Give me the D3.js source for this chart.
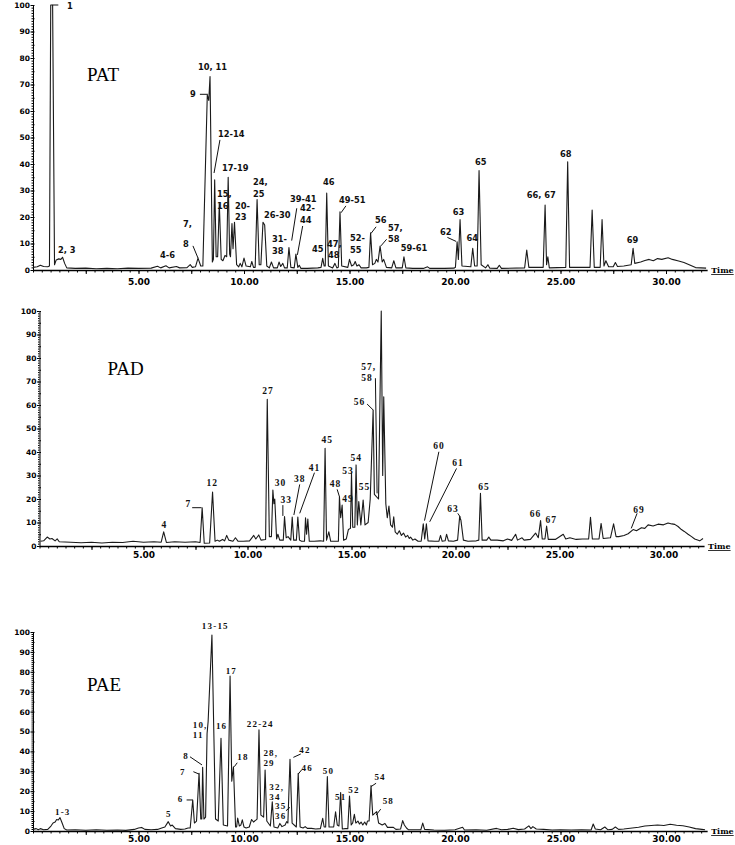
<!DOCTYPE html>
<html>
<head>
<meta charset="utf-8">
<script src="https://cdn.jsdelivr.net/npm/d3@7"></script>
<style>
body { margin:0; background:#fff; }
svg { display:block; }
</style>
</head>
<body>
<div id="graph"></div>
<script>
// tick values / labels shared by the three chromatograms
var yTickValues = [0, 10, 20, 30, 40, 50, 60, 70, 80, 90, 100];
var xTickTimes = [5, 10, 15, 20, 25, 30];
var xTickLabels = ["5.00", "10.00", "15.00", "20.00", "25.00", "30.00"];
var sampleNames = ["PAT", "PAD", "PAE"];

// traces: [retention time (min), relative abundance (%)]
var patTrace = [[0.0,1.0],[0.2,1.2],[0.35,1.8],[0.5,1.3],[0.7,1.2],[0.78,1.5],[0.84,100],[0.93,100],[1.02,2.0],[1.1,3.8],[1.22,4.2],[1.32,4.0],[1.4,4.8],[1.5,2.5],[1.6,0.8],[2.0,0.6],[2.5,0.7],[3.0,0.5],[3.5,0.6],[4.0,0.5],[4.5,0.7],[5.0,0.6],[5.6,0.7],[5.9,1.4],[6.05,0.8],[6.3,1.6],[6.45,0.8],[6.8,1.3],[6.95,0.8],[7.3,0.9],[7.45,2.0],[7.55,1.0],[7.7,1.2],[7.82,4.5],[7.95,1.5],[8.05,1.5],[8.26,66],[8.33,64],[8.39,73],[8.5,3],[8.55,4],[8.61,34],[8.68,5],[8.75,5],[8.83,25],[8.92,4],[9.0,3.5],[9.1,5.5],[9.18,5],[9.25,35],[9.32,6],[9.36,5],[9.43,17.5],[9.48,8],[9.55,18],[9.65,2],[9.75,1.2],[9.82,2.5],[9.9,1.2],[10.0,4.5],[10.1,1.5],[10.3,1.2],[10.37,3.2],[10.45,1.0],[10.53,1.0],[10.62,26.6],[10.72,2],[10.8,2],[10.9,18],[10.98,17],[11.08,1.5],[11.2,0.8],[11.3,3],[11.4,0.8],[11.58,0.8],[11.66,3],[11.74,1.3],[11.84,2.5],[11.92,0.8],[12.05,0.8],[12.13,8.5],[12.22,1],[12.38,0.8],[12.46,6],[12.55,1],[12.62,1.8],[12.7,0.6],[13.0,0.6],[13.5,0.8],[13.65,1.0],[13.73,4.4],[13.8,1.5],[13.85,1.5],[13.92,29],[14.0,1.5],[14.2,0.8],[14.31,2.5],[14.4,0.8],[14.47,1],[14.55,22],[14.63,1.5],[14.92,1.0],[15.0,4],[15.1,1.5],[15.2,2.0],[15.27,3.2],[15.35,1.5],[15.45,2],[15.55,0.8],[15.8,0.8],[15.92,1.0],[16.0,14],[16.09,2],[16.2,2.5],[16.27,4],[16.35,3],[16.45,9],[16.55,3],[16.62,4],[16.75,1.0],[17.0,0.8],[17.1,3.5],[17.2,0.8],[17.5,0.8],[17.58,5],[17.67,0.8],[18.0,0.6],[18.5,0.6],[18.7,1.2],[18.8,0.6],[19.5,0.6],[19.95,0.7],[20.02,1],[20.1,10.6],[20.16,4],[20.24,19],[20.33,1.5],[20.75,1.2],[20.84,8.2],[20.93,1.5],[21.05,1.5],[21.14,37.5],[21.24,2],[21.45,0.8],[21.56,2],[21.65,0.7],[22.0,0.6],[22.1,1.8],[22.2,0.6],[23.3,0.8],[23.4,7.5],[23.5,1],[24.18,1],[24.27,24.5],[24.34,2],[24.4,5],[24.47,0.8],[25.25,1],[25.34,40.8],[25.43,1],[26.4,1],[26.5,22.6],[26.6,1],[26.88,1],[26.97,19],[27.06,1.5],[27.15,3.5],[27.28,1.2],[27.5,1.2],[27.6,2.8],[27.7,1.3],[28.0,1.5],[28.35,2],[28.44,8.2],[28.52,2.5],[28.8,3],[29.0,3.6],[29.2,4],[29.4,3.5],[29.6,4.3],[29.8,4.0],[30.1,4.6],[30.3,4.0],[30.6,3.4],[30.85,2.8],[31.1,2],[31.4,0.9],[31.9,0.7]];

var padTrace = [[0.05,2.0],[0.2,2.2],[0.37,3.8],[0.5,3.0],[0.6,3.2],[0.75,2.2],[0.85,3.0],[0.95,1.8],[1.5,1.6],[2.0,1.4],[2.5,1.6],[3.0,1.3],[3.5,1.6],[4.0,1.5],[4.5,2.0],[5.0,1.6],[5.5,1.8],[5.85,1.6],[5.97,6],[6.1,1.5],[6.5,1.8],[7.0,1.6],[7.5,1.8],[7.72,1.5],[7.82,16.3],[7.92,1.2],[8.18,1.3],[8.32,23],[8.44,2],[8.55,2.5],[8.65,2.0],[8.8,2.8],[8.9,2.2],[9.0,4.5],[9.1,2.5],[9.3,2.0],[9.42,3.5],[9.55,2.0],[9.8,2.0],[10.1,2.2],[10.3,4.5],[10.4,3],[10.54,4.7],[10.65,2.5],[10.87,2.8],[10.95,62.4],[11.05,4],[11.15,4],[11.22,23.8],[11.27,18],[11.31,20],[11.4,3],[11.46,5],[11.55,2.5],[11.72,2.5],[11.78,12.5],[11.86,3.5],[11.95,4],[12.08,2.5],[12.15,12.3],[12.22,2.5],[12.35,2.5],[12.42,12.3],[12.5,2.5],[12.6,2.0],[12.74,2.0],[12.79,12],[12.84,5],[12.9,11.5],[12.97,2.0],[13.2,2.0],[13.5,2.2],[13.66,2],[13.73,41.6],[13.8,2.5],[13.91,6],[14.0,2.0],[14.3,2.0],[14.37,2],[14.42,21],[14.48,12],[14.55,17.4],[14.62,2.5],[14.75,3],[14.85,7],[14.95,7.5],[15.0,31],[15.06,8],[15.16,8],[15.22,34.5],[15.28,9],[15.35,18.9],[15.45,9],[15.56,19.6],[15.65,9],[15.8,10],[15.9,20],[16.04,57.9],[16.1,22],[16.3,20],[16.43,100],[16.5,30],[16.55,63.5],[16.65,18],[16.72,12],[16.8,17],[16.88,9],[16.97,8],[17.03,12.4],[17.1,6],[17.2,5],[17.3,6.5],[17.4,4.5],[17.5,5.5],[17.6,3.8],[17.7,4.5],[17.78,3.2],[17.84,3.8],[17.95,2.5],[18.05,3],[18.2,2.0],[18.35,2.0],[18.45,9.4],[18.52,3],[18.6,9.4],[18.68,2.2],[19.0,2.0],[19.2,2.0],[19.28,4.5],[19.36,2],[19.5,2.2],[19.57,5],[19.66,2.2],[19.9,2.0],[20.1,2.5],[20.2,12.5],[20.26,11],[20.38,2.5],[20.6,2.0],[21.0,2.2],[21.12,2.5],[21.2,22.4],[21.28,2.5],[21.5,2.5],[21.6,3.8],[21.7,2.5],[22.0,2.5],[22.3,2.2],[22.5,3],[22.7,2.4],[22.89,5],[22.98,2.5],[23.2,3.5],[23.3,2.5],[23.6,2.8],[23.85,5.5],[23.98,3.5],[24.09,10.8],[24.17,3.0],[24.3,3],[24.38,8.5],[24.46,2.8],[24.8,2.8],[25.18,5],[25.3,3.0],[25.5,3.5],[25.8,2.8],[26.1,3.0],[26.4,3],[26.49,12.2],[26.58,3],[26.9,3],[27.0,9.6],[27.1,3.2],[27.45,3.5],[27.6,9.4],[27.72,4],[27.85,4],[28.1,4.5],[28.3,5.2],[28.54,7],[28.7,6.5],[28.94,7.8],[29.1,7.5],[29.26,9],[29.5,8.5],[29.74,9.3],[30.0,9],[30.22,9.8],[30.4,9.4],[30.54,9.2],[30.7,8.3],[30.86,7],[31.0,6.2],[31.18,5],[31.35,4],[31.5,3],[31.74,2.2],[31.9,3.2]];

var paeTrace = [[0.0,0.8],[0.15,1.2],[0.25,0.6],[0.35,1.2],[0.5,0.6],[0.7,0.8],[0.85,2.5],[0.95,4],[1.05,4.5],[1.12,5.8],[1.2,5.5],[1.28,6.7],[1.38,4],[1.48,1.2],[1.6,0.5],[2.0,0.6],[2.5,0.4],[3.0,0.6],[3.5,0.4],[4.0,0.5],[4.4,0.3],[4.8,0.8],[5.0,1.5],[5.15,1.8],[5.3,0.8],[5.6,0.6],[5.9,0.8],[6.1,1.5],[6.25,2],[6.41,4.7],[6.52,2.5],[6.6,3],[6.75,1.2],[7.0,0.8],[7.2,1.0],[7.35,1.5],[7.45,1.5],[7.57,15.6],[7.65,4],[7.75,5],[7.87,29],[7.95,6],[8.0,6],[8.04,32],[8.1,6],[8.18,7],[8.25,49],[8.3,55],[8.48,98.5],[8.65,6],[8.78,5],[8.91,46.6],[9.02,3],[9.22,2.5],[9.34,77.9],[9.42,25],[9.5,32.3],[9.6,2],[9.65,2],[9.7,6.5],[9.78,2.5],[9.85,3],[9.92,5.6],[10.0,2],[10.1,1.5],[10.25,2],[10.36,5.8],[10.45,4.5],[10.62,6],[10.71,50.8],[10.8,8],[10.93,7],[11.0,30.6],[11.08,5],[11.25,2.5],[11.34,14.7],[11.42,2],[11.6,1.5],[11.7,3.8],[11.8,2.2],[11.95,3.0],[12.02,4.7],[12.08,4],[12.18,36],[12.28,4],[12.48,2],[12.57,29],[12.66,2],[12.8,1.5],[12.9,2.2],[13.0,1.3],[13.2,1.3],[13.4,1.0],[13.62,1.2],[13.73,6.4],[13.8,2],[13.87,2],[13.95,27.3],[14.03,2],[14.25,2],[14.34,9.7],[14.42,3],[14.5,2.5],[14.58,19.3],[14.66,1],[14.8,1.2],[14.92,1.2],[15.0,17.6],[15.08,3],[15.15,4],[15.23,8.4],[15.3,4],[15.4,5],[15.47,3.5],[15.55,4.5],[15.63,3],[15.72,4.5],[15.8,3],[15.85,5],[15.93,5],[16.02,22.8],[16.1,8],[16.29,9.7],[16.38,4],[16.55,3],[16.68,3.8],[16.8,1.8],[17.08,1.8],[17.2,0.8],[17.42,1],[17.52,5.2],[17.6,3],[17.7,1.5],[17.8,0.6],[18.38,0.6],[18.47,4],[18.56,0.8],[19.0,0.5],[19.5,0.4],[20.0,0.6],[20.36,1.9],[20.45,0.5],[21.0,0.6],[21.5,0.4],[21.97,1.3],[22.2,0.6],[22.5,0.8],[22.76,1.4],[23.0,0.7],[23.3,1],[23.5,2.6],[23.6,1.2],[23.69,2.2],[23.85,1],[24.2,0.8],[24.6,0.5],[25.0,0.6],[25.5,0.5],[26.0,0.6],[26.45,0.5],[26.55,3.5],[26.65,1],[26.9,0.6],[27.1,2.0],[27.25,0.6],[27.45,0.8],[27.6,2.0],[27.75,0.8],[28.0,1.0],[28.4,1.5],[28.7,1.9],[29.0,2.5],[29.3,2.8],[29.6,3.0],[29.9,2.8],[30.2,3.4],[30.5,2.9],[30.8,2.6],[31.1,2.0],[31.4,1.2],[31.7,0.8],[31.85,0.6]];

// peak numbers: [text, time of left edge, abundance at baseline]
var patLabels = [["1",1.61,98.4],["2, 3",1.18,6.4],["4-6",6.02,4.5],["7,",7.11,16.2],["8",7.11,8.7],["9",7.44,65.3],["10, 11",7.82,75.5],["12-14",8.77,50.2],["17-19",8.96,37.4],["15,",8.72,27.4],["16",8.72,23.2],["20-",9.57,23.2],["23",9.57,19.0],["24,",10.43,31.9],["25",10.43,27.7],["26-30",10.95,19.6],["31-",11.33,10.4],["38",11.33,6.2],["39-41",12.18,25.7],["42-",12.65,22.1],["44",12.65,17.9],["45",13.22,6.8],["46",13.74,32],["47,",13.93,8.5],["48",13.98,4.7],["49-51",14.5,25.3],["52-",15.02,10.8],["55",15.02,6.6],["56",16.21,17.7],["57,",16.82,14.9],["58",16.82,10.7],["59-61",17.43,7.2],["62",19.29,13.2],["63",19.89,20.8],["64",20.55,10.9],["65",20.95,39.6],["66, 67",23.4,27],["68",24.98,42.8],["69",28.14,10.1]];
var padLabels = [["4",5.87,7.7],["7",7.02,16.6],["12",8.03,25.7],["27",10.71,64.7],["30",11.31,25.7],["33",11.59,18.4],["38",12.23,27.1],["41",12.95,32],["45",13.56,43.7],["48",13.96,25],["49",14.55,18.9],["53",14.55,30.6],["54",14.95,36.3],["55",15.35,23.8],["56",15.11,60],["57,",15.47,74.8],["58",15.47,70.4],["60",18.93,41.3],["61",19.84,34.2],["63",19.6,14.6],["65",21.09,23.8],["66",23.57,12.2],["67",24.33,9.7],["69",28.54,13.9]];
var paeLabels = [["1-3",1.04,8],["5",6.3,7.2],["6",6.86,14.4],["7",6.97,28.3],["8",7.12,36.2],["10,",7.57,51.6],["11",7.57,46.8],["13-15",8.0,101.4],["16",8.67,51.3],["17",9.13,78.7],["18",9.68,35.7],["22-24",10.13,52.1],["28,",10.92,37.6],["29",10.92,32.5],["32,",11.2,20.6],["34",11.2,15.8],["35",11.47,11.2],["36",11.47,6.2],["42",12.62,39],["46",12.73,30.3],["50",13.73,28.6],["51",14.31,15.6],["52",14.94,18.9],["54",16.18,25.6],["58",16.57,13.6]];

// leader lines from a number to its peak: [t1, v1, t2, v2]
var patLeaders = [[0.93,100,1.2,100],[7.58,9.1,7.82,4.5],[7.91,66.3,8.29,66.3],[8.86,49.1,8.58,36.6],[12.5,23.3,12.26,11.1],[12.78,16.6,12.53,5.7],[14.83,24.2,14.6,21.6],[16.26,16.3,16.02,13.8],[16.76,11.6,16.49,9.1],[19.64,12.3,20.05,10.8]];
var padLeaders = [[7.34,16.3,7.79,16.3],[11.7,17.4,11.7,12.8],[12.51,26.2,12.23,13.2],[13.22,31.2,12.51,13.9],[14.31,24.1,14.42,21],[15.75,60.4,16.04,57.9],[16.15,71.4,16.23,22.4],[19.2,40.1,18.51,10.8],[20.05,33,18.76,10.3],[20.11,13.9,20.24,12.2],[28.73,13.9,28.45,7.5]];
var paeLeaders = [[7.28,15.6,7.57,15.6],[7.6,29.8,7.87,28.6],[7.44,37.3,8.01,33.2],[9.54,32.3,9.68,34.3],[11.99,10.2,12.18,11.9],[12.34,37,12.69,38.7],[12.57,28.6,12.73,30.7],[16.02,22.3,16.26,24],[16.26,8,16.48,11]];

// where the sample name sits, in data units
var namePos = [[2.56,71.3],[3.27,72.8],[2.56,70.4]];

var W = 735, H = 845;
var svg = d3.select("#graph").append("svg")
    .attr("width", W)
    .attr("height", H);

var panels = [
    {trace: patTrace, labels: patLabels, leaders: patLeaders, left: 33, pxPerMin: 21.1, bottom: 270, top: 5, labelY: 15,
     font: "DejaVu Sans", fontSize: 8.3, spacing: 0},
    {trace: padTrace, labels: padLabels, leaders: padLeaders, left: 39.5, pxPerMin: 20.8, bottom: 546, top: 311, labelY: 12,
     font: "Liberation Serif", fontSize: 9.5, spacing: 1},
    {trace: paeTrace, labels: paeLabels, leaders: paeLeaders, left: 33, pxPerMin: 21.1, bottom: 831, top: 632, labelY: 11,
     font: "Liberation Serif", fontSize: 9, spacing: 1.2}
];

panels.forEach(function(p, i) {
    var tEnd = 31.95;
    var x = d3.scaleLinear().domain([0, tEnd]).range([p.left, p.left + p.pxPerMin * tEnd]);
    var y = d3.scaleLinear().domain([0, 100]).range([p.bottom, p.top]);

    var g = svg.append("g");

    // minor ticks on x
    g.append("g")
        .attr("transform", "translate(0," + p.bottom + ")")
        .call(d3.axisBottom(x).tickValues(d3.range(0, tEnd, 2.5 / 6)).tickSize(2.5).tickFormat(""))
        .call(function(a) { a.select(".domain").remove(); });

    // 2.5 min ticks and labels
    var xAxis = g.append("g")
        .attr("transform", "translate(0," + p.bottom + ")")
        .call(d3.axisBottom(x).tickValues(d3.range(2.5, tEnd, 2.5)).tickSize(4).tickSizeOuter(0)
            .tickFormat(function(d) {
                var k = xTickTimes.indexOf(d);
                return k >= 0 ? xTickLabels[k] : "";
            }));
    xAxis.select(".domain").attr("stroke-width", 1.6);
    xAxis.selectAll("text")
        .attr("y", p.labelY).attr("dy", 0)
        .attr("font-family", "DejaVu Sans").attr("font-weight", "bold").attr("font-size", 9);

    // y axis, dense minor ticks
    g.append("g")
        .attr("transform", "translate(" + p.left + ",0)")
        .call(d3.axisLeft(y).tickValues(d3.range(0, 101, 1)).tickSize(1.5).tickFormat(""))
        .call(function(a) { a.select(".domain").remove(); });
    g.append("g")
        .attr("transform", "translate(" + p.left + ",0)")
        .call(d3.axisLeft(y).tickValues(d3.range(0, 101, 5)).tickSize(-1.5).tickFormat(""))
        .call(function(a) { a.select(".domain").remove(); });
    var yAxis = g.append("g")
        .attr("transform", "translate(" + p.left + ",0)")
        .call(d3.axisLeft(y).tickValues(yTickValues).tickSize(2.5).tickPadding(0.5).tickSizeOuter(0));
    yAxis.selectAll("text")
        .attr("font-family", "DejaVu Sans").attr("font-weight", "bold").attr("font-size", 7.5);

    g.append("text")
        .attr("x", x(tEnd) + 4)
        .attr("y", p.bottom + 3)
        .attr("font-family", "DejaVu Serif").attr("font-weight", "bold").attr("font-size", 8)
        .attr("text-decoration", "underline")
        .text("Time");

    if (p.percent) {
        g.append("text")
            .attr("x", p.left - 34).attr("y", y(50) + 2)
            .attr("font-family", "DejaVu Sans").attr("font-weight", "bold").attr("font-size", 6)
            .text("%");
    }

    // chromatogram trace
    var line = d3.line()
        .x(function(d) { return x(d[0]); })
        .y(function(d) { return y(d[1]); });
    g.append("path")
        .datum(p.trace)
        .attr("fill", "none")
        .attr("stroke", "#1a1a1a")
        .attr("stroke-width", 1.1)
        .attr("stroke-linejoin", "round")
        .attr("d", line);

    g.selectAll(".leader")
        .data(p.leaders)
        .enter().append("line")
        .attr("x1", function(d) { return x(d[0]); })
        .attr("y1", function(d) { return y(d[1]); })
        .attr("x2", function(d) { return x(d[2]); })
        .attr("y2", function(d) { return y(d[3]); })
        .attr("stroke", "#111")
        .attr("stroke-width", 1);

    g.selectAll(".peak-label")
        .data(p.labels)
        .enter().append("text")
        .attr("x", function(d) { return x(d[1]); })
        .attr("y", function(d) { return y(d[2]); })
        .attr("font-family", p.font)
        .attr("font-weight", "bold")
        .attr("font-size", p.fontSize)
        .attr("letter-spacing", p.spacing)
        .attr("fill", "#111")
        .text(function(d) { return d[0]; });

    g.append("text")
        .attr("x", x(namePos[i][0]))
        .attr("y", y(namePos[i][1]))
        .attr("font-family", "Liberation Serif")
        .attr("font-size", 19)
        .text(sampleNames[i]);
});
</script>
</body>
</html>
